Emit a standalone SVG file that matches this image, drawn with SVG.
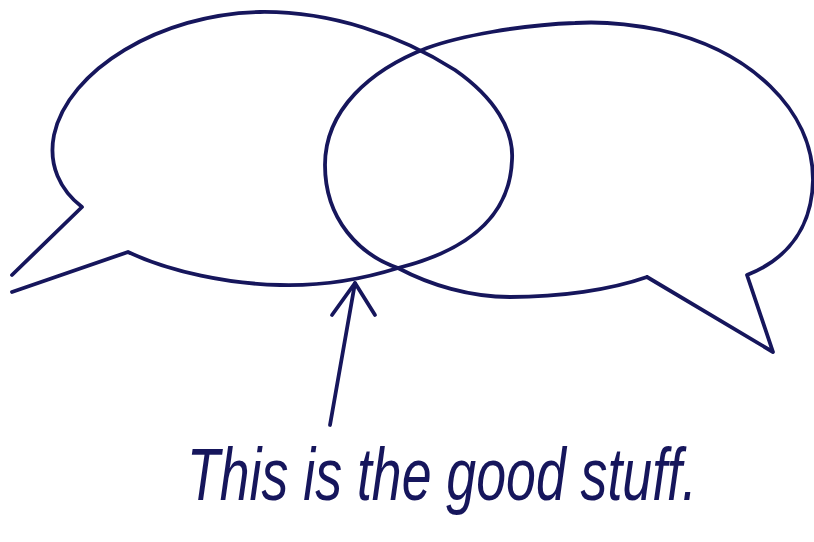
<svg xmlns="http://www.w3.org/2000/svg" width="814" height="542" viewBox="0 0 814 542">
<style>
.ink{fill:none;stroke:#16165c;stroke-width:3.8;stroke-linejoin:round;stroke-linecap:round}
.hand{font-family:"Liberation Sans","DejaVu Sans",sans-serif;font-style:italic;font-size:74px;fill:#16165c}
</style>
<rect width="814" height="542" fill="#ffffff"/>
<g id="left-bubble">
<path class="ink" d="M12,275 L82,207 C60,190 48,165 54,135 C68,70 160,14 260,12 C330,11 400,35 455,70 C495,98 514,130 512,160 C510,215 470,250 398,268 C360,280 320,286 280,285 C230,284 170,272 128,252 L12,292"/>
</g>
<g id="right-bubble">
<path class="ink" d="M647,277 L773,352 L747,275 C790,258 812,225 813,180 C813,110 750,50 660,30 C620,22 590,22 575,23 C520,25 460,36 427,48 C370,70 325,110 325,165 C325,220 360,255 398,268 C430,285 470,297 510,297 C560,297 610,290 647,277"/>
</g>
<g id="connectors">
<path class="ink" d="M330,425 L355,283"/>
<path class="ink" d="M332,315 L355,283 L375,315"/>
</g>
<g id="label">
<text class="hand" transform="translate(187,500) scale(0.725,1)" x="0" y="0">This is the good stuff.</text>
</g>
</svg>
